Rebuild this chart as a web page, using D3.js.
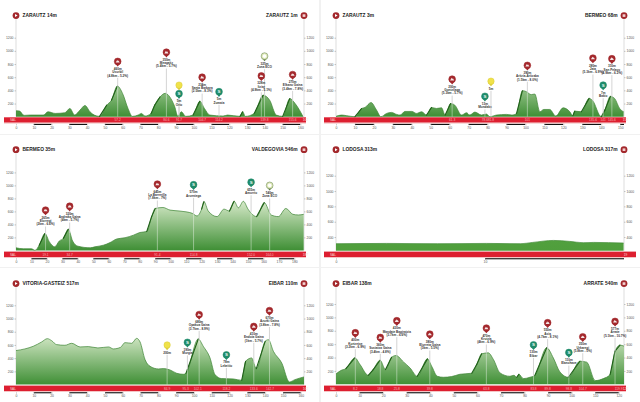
<!DOCTYPE html>
<html><head><meta charset="utf-8">
<script src="https://d3js.org/d3.v7.min.js"></script>
<style>html,body{margin:0;padding:0;background:#fff}svg{display:block}text{font-family:"Liberation Sans",Arial,sans-serif}</style>
</head><body><svg id="c" width="640" height="402"></svg>
<script>
// ---- stage 1
const s1Start="ZARAUTZ 14m", s1End="ZARAUTZ 1m";
const s1Km=[0,2,4.5,8,15.4,18,22,27.5,30.3,33,36,38.8,41.6,44,47,51,53.7,57,60,63,65.5,68.7,70.6,72.5,76,78,81,84,86.5,89.3,91,93,95.5,99.6,103.4,106,109,116.5,119,126,127.5,129,134,139,142.7,146.4,150,154,157,161.5];
const s1Elev=[90,85,20,25,25,75,50,60,125,25,100,170,75,25,5,175,250,465,350,125,5,25,50,10,50,175,300,355,300,150,10,75,5,25,235,125,25,10,25,5,75,5,50,325,250,25,5,275,200,0];
const s1Ticks=d3.range(0,161,10);
const s1Marks=["57.2","84.6","91.7","104.7","114.2","139.8","155.6"];
const s1MarkKm=[57.2,84.6,91.7,104.7,114.2,139.8,155.6];
const s1PinKm=[57.2,84.6,91.7,91.7,104.7,114.2,139.8,138,155.6];
const s1PinAlt=[840,980,480,350,600,380,920,620,640];
const s1PinKind=["r","r","y","g","r","g","l","r","r"];
const s1PinText=["460m|Usurbil|(4.8km - 5.2%)","350m|Meagaitz|(5.4km - 5.7%)","","5m|Orio","234m|Santa Barbara|(2.5km - 8.3%)","5m|Zumaia","325m|Zona ECO","328m|Itziar|(4.9km - 5.1%)","270m|Elkano Gaina|(3.4km - 7.8%)"];

// ---- stage 2
const s2Start="ZARAUTZ 3m", s2End="BERMEO 68m";
const s2Km=[0,3,5.7,10,13.5,15.3,18.5,21.4,23.7,26.7,29.3,32,33.8,36.4,40,42.5,45.2,47.8,50.4,53,55.7,57.6,60.5,62.7,66.3,68.9,70.6,73.3,76.8,79.4,81.2,84.7,90,92.8,95.3,98.4,100.5,103,104.9,107.6,109.7,112.8,116,119.9,123.4,125,126,129.5,133.6,135.3,140,141.9,144.8,147,149.7,151.8];
const s2Elev=[5,25,15,0,125,140,215,100,0,50,65,35,25,80,80,50,75,25,140,125,135,25,200,175,25,60,25,70,25,40,0,25,35,25,50,395,380,335,345,75,110,110,10,135,75,15,85,75,278,250,0,100,308,278,125,75];
const s2Ticks=d3.range(0,151,10);
const s2Marks=["61.3","78.6","81.8","101","135.6","141","145.6"];
const s2MarkKm=[61.3,78.6,81.8,101,135.6,141,145.6];
const s2PinKm=[61.3,78.6,81.8,101,135.6,141,145.6];
const s2PinAlt=[570,310,540,780,890,480,880];
const s2PinText=["200m|Gontzilaga|(5.3km - 5.7%)","13m|Mundaka","5m","390m|Aritzia-Aritzaba|(1.5km - 8.0%)","280m|Jata|(5.3km - 6.9%)","7m|Bakio","310m|San Pelayo|(4.9km - 6.2%)"];
const s2PinKind=["r","g","y","r","r","g","r"];

// ---- stage 3
const s3Start="BERMEO 35m", s3End="VALDEGOVIA 546m";
const s3Km=[0,4.7,10,12.3,15,18.7,21.5,25,28,30.6,33.8,36.6,40,48,51,56.5,60.8,65,70.5,76,80,84.5,87.7,90,95,99.6,106,114,117,120,121.5,124.3,130,134.5,138,141,143.8,147,150,155.6,160.5,165,169.6,174.5,179,182.5,186];
const s3Elev=[40,25,25,0,80,260,135,55,145,185,325,145,65,40,55,80,120,175,195,235,275,290,520,645,660,620,605,570,530,635,750,605,520,635,605,755,655,755,635,520,735,545,520,645,555,545,555];
const s3Ticks=d3.range(0,181,10);
const s3Marks=["19.1","34.7","91.4","114.8","152.0","164.0"];
const s3MarkKm=[19.1,34.7,91.4,114.8,152,164];
const s3PinKm=[19.1,34.7,91.4,114.8,152,164];
const s3PinAlt=[620,680,1020,1010,1050,1000];
const s3PinText=["265m|Elorregi|(2km - 6.6%)","320m|Andraka Gaina|(4km - 5.7%)","645m|La Barrerilla|(7.8km - 7%)","570m|Arceniega","655m|Amurrio","540m|Zona ECO"];
const s3PinKind=["r","r","r","g","g","l"];

// ---- stage 4
const s4Start="LODOSA 313m", s4End="LODOSA 317m";
const s4Km=[0,3.4,6.8,10.1,12.4,13.2,14.6,15.7,16.6,17.3,19.3];
const s4Elev=[313,317,313,317,313,330,356,343,326,330,322];
const s4Ticks=[0,10];
const s4Marks=[], s4MarkKm=[], s4PinKm=[], s4PinAlt=[], s4PinText=[], s4PinKind=[];

// ---- stage 5
const s5Start="VITORIA-GASTEIZ 517m", s5End="EIBAR 110m";
const s5Km=[0,5,9.7,14.4,17.6,20,22.8,27.5,31.3,36,40.6,46,52,54.7,58.8,61.2,65,67.8,69.7,72.5,75.3,80,82.8,86.5,90.3,94,95.5,102.4,105.2,109,111.8,115.5,122,126.8,129,132.4,135,140,141.8,144.6,149.3,153.6,156.7,161.8];
const s5Elev=[515,540,580,645,695,665,605,595,625,570,575,555,570,540,565,635,625,700,645,378,277,237,242,222,171,156,171,690,580,403,151,91,86,65,353,403,242,655,680,504,327,40,75,116];
const s5Ticks=d3.range(0,161,10);
const s5Marks=["84.9","95.3","102.1","118.2","133.6","142.7"];
const s5MarkKm=[84.9,95.3,102.1,118.2,133.6,142.7];
const s5PinKm=[84.9,96.3,102.9,118.2,133.6,142.4];
const s5PinAlt=[600,640,1060,450,880,1120];
const s5PinText=["200m","190m|Murgia","680m|Opakua Gaina|(3.7km - 8.9%)","78m|Lekeitio","410m|Endoia Gaina|(1km - 5.7%)","670m|Azurki Gaina|(3.8km - 7.8%)"];
const s5PinKind=["y","g","r","g","r","r"];

// ---- stage 6
const s6Start="EIBAR 138m", s6End="ARRATE 540m";
const s6Km=[0,2,4.2,8,10.2,13.7,15.8,18.7,21,23.6,25.5,28.6,31.4,34.5,38.8,40.6,43,45.5,49,52.6,57.6,59.7,61.8,64.6,66.8,69.6,73.8,75.5,76.7,77.6,79.5,82.3,84.4,89.4,92.2,95,98.6,103.5,106.4,110,113.4,116.3,118.4,120.5,122.2];
const s6Elev=[155,205,235,395,295,135,220,360,220,405,430,335,245,120,380,270,120,105,115,150,165,295,455,470,370,170,120,135,105,150,85,105,135,545,395,185,105,345,330,55,85,145,495,585,570];
const s6Ticks=d3.range(0,121,10);
const s6Marks=["8.2","18.8","25.8","39.8","63.8","83.8","89.8","98.8","104.7","119.9"];
const s6MarkKm=[8.2,18.8,25.8,39.8,63.8,83.8,89.8,98.8,104.7,119.9];
const s6PinKm=[8.2,18.8,25.8,39.8,63.8,83.8,89.8,98.8,104.7,118.4];
const s6PinAlt=[770,700,950,750,840,590,920,475,710,940];
const s6PinText=["400m|Kurtzetxe|(3.2km - 6.9%)","360m|Sustatxa Gaina|(3.4km - 4.8%)","430m|Mandate Bagiratzia|(3.7km - 6.6%)","380m|Elurreta Gaina|(3km - 5.5%)","470m|Krutzia|(4km - 6.9%)","130m|Eibar","550m|Asia|(4.7km - 8.1%)","110m|Elanchave","350m|Urkaregi|(5.8km - 5%)","577m|Arrate|(5.1km - 10.7%)"];
const s6PinKind=["r","r","r","r","r","g","r","g","r","r"];

const s1Total=162, s2Total=152, s3Total=186.2, s4Total=19.33, s5Total=161.8, s6Total=122.2;
const s1EndMark="162", s2EndMark="152", s3EndMark="187", s4EndMark="19", s5EndMark="162", s6EndMark="122";
const altTicks=[1200,1000,800,600,400,200];
const altTicks4=[1200,1000,800,600,400];

const stages=[
 {ox:0,oy:0,total:s1Total,km:s1Km,elev:s1Elev,start:s1Start,end:s1End,ticks:s1Ticks,marks:s1Marks,markKm:s1MarkKm,pinKm:s1PinKm,pinAlt:s1PinAlt,pinText:s1PinText,pinKind:s1PinKind,endMark:s1EndMark,alt:altTicks,y0:0,yBase:116.7,yTop:37.7,yTopV:1200,titleY:15.6,bandY:117.3,tickStep:10},
 {ox:320,oy:0,total:s2Total,km:s2Km,elev:s2Elev,start:s2Start,end:s2End,ticks:s2Ticks,marks:s2Marks,markKm:s2MarkKm,pinKm:s2PinKm,pinAlt:s2PinAlt,pinText:s2PinText,pinKind:s2PinKind,endMark:s2EndMark,alt:altTicks,y0:0,yBase:116.7,yTop:37.7,yTopV:1200,titleY:15.6,bandY:117.3,tickStep:10},
 {ox:0,oy:135,total:s3Total,km:s3Km,elev:s3Elev,start:s3Start,end:s3End,ticks:s3Ticks,marks:s3Marks,markKm:s3MarkKm,pinKm:s3PinKm,pinAlt:s3PinAlt,pinText:s3PinText,pinKind:s3PinKind,endMark:s3EndMark,alt:altTicks,y0:0,yBase:115.4,yTop:37.4,yTopV:1200,titleY:14.7,bandY:116.6,tickStep:10},
 {ox:320,oy:135,total:s4Total,km:s4Km,elev:s4Elev,start:s4Start,end:s4End,ticks:s4Ticks,marks:s4Marks,markKm:s4MarkKm,pinKm:s4PinKm,pinAlt:s4PinAlt,pinText:s4PinText,pinKind:s4PinKind,endMark:s4EndMark,alt:altTicks4,y0:222,yBase:115.7,yTop:40.7,yTopV:1200,titleY:14.7,bandY:116.6,tickStep:10},
 {ox:0,oy:268,total:s5Total,km:s5Km,elev:s5Elev,start:s5Start,end:s5End,ticks:s5Ticks,marks:s5Marks,markKm:s5MarkKm,pinKm:s5PinKm,pinAlt:s5PinAlt,pinText:s5PinText,pinKind:s5PinKind,endMark:s5EndMark,alt:altTicks,y0:0,yBase:116.6,yTop:37.3,yTopV:1200,titleY:15.6,bandY:117.6,tickStep:10},
 {ox:320,oy:268,total:s6Total,km:s6Km,elev:s6Elev,start:s6Start,end:s6End,ticks:s6Ticks,marks:s6Marks,markKm:s6MarkKm,pinKm:s6PinKm,pinAlt:s6PinAlt,pinText:s6PinText,pinKind:s6PinKind,endMark:s6EndMark,alt:altTicks,y0:0,yBase:116.3,yTop:36,yTopV:1200,titleY:15.6,bandY:117.6,tickStep:10}
];

const kindFill={r:"#a3282c",g:"#1f8b6a",y:"#f0e24a",l:"#dfe9b8"};
const kindEdge={r:"#a3282c",g:"#1f8b6a",y:"#d9cb3a",l:"#5e7d4a"};
const svg=d3.select("#c");
const defs=svg.append("defs");
// panel separators
svg.append("rect").attr("width",640).attr("height",402).attr("fill","#f1f1f1");
const LX=16,RX=304;

stages.forEach((s,i)=>{
  const g=svg.append("g").attr("transform",`translate(${s.ox},${s.oy})`);
  const cardH=i<2?134:(i<4?132:134);
  g.append("rect").attr("x",i%2?1:0).attr("y",0).attr("width",319).attr("height",cardH).attr("fill","#fff");
  const x=d3.scaleLinear().domain([0,s.total]).range([LX,RX]);
  const y=d3.scaleLinear().domain([s.y0,s.yTopV]).range([s.yBase,s.yTop]);
  // gradient
  const gid="grad"+i;
  const gr=defs.append("linearGradient").attr("id",gid).attr("gradientUnits","userSpaceOnUse").attr("x1",0).attr("x2",0).attr("y1",s.yBase).attr("y2",y(i===3?900:720));
  gr.append("stop").attr("offset",0).attr("stop-color",i===3?"#4f9e3c":"#3f8f35");
  gr.append("stop").attr("offset",1).attr("stop-color",i===3?"#5aa845":"#cfe5c2");
  // side axes
  g.append("line").attr("x1",LX).attr("x2",LX).attr("y1",s.titleY).attr("y2",s.yBase).attr("stroke","#d4d4d4").attr("stroke-width",0.8);
  g.append("line").attr("x1",RX).attr("x2",RX).attr("y1",s.titleY).attr("y2",s.yBase).attr("stroke","#d4d4d4").attr("stroke-width",0.8);
  // altitude ticks
  const axL=d3.axisLeft(y).tickValues(s.alt).tickSize(1.5).tickPadding(1).tickFormat(d3.format("d"));
  const axR=d3.axisRight(y).tickValues(s.alt).tickSize(1.5).tickPadding(1).tickFormat(d3.format("d"));
  [[axL,LX],[axR,RX]].forEach(([ax,tx])=>{
    const a=g.append("g").attr("transform",`translate(${tx},0)`).call(ax);
    a.select(".domain").remove();
    a.selectAll("line").attr("stroke","#777").attr("stroke-width",0.4);
    a.selectAll("text").attr("font-size",3.4).attr("fill","#555");
  });
  // area
  const area=d3.area().x((d,j)=>x(s.km[j])).y0(s.yBase).y1(d=>y(d)).curve(d3.curveMonotoneX);
  const line=d3.line().x((d,j)=>x(s.km[j])).y(d=>y(d)).curve(d3.curveMonotoneX);
  g.append("path").attr("d",area(s.elev)).attr("fill",`url(#${gid})`);
  g.append("path").attr("d",line(s.elev)).attr("fill","none").attr("stroke",i===3?"#3f8a33":"#3c8433").attr("stroke-width",0.7);
  // steep climbs thicker
  const pts=s.elev.map((e,j)=>[x(s.km[j]),y(e)]);
  for(let j=0;j<pts.length-1;j++){
    const grade=(s.elev[j+1]-s.elev[j])/((s.km[j+1]-s.km[j])*1000);
    if(grade>0.035){
      g.append("line").attr("x1",pts[j][0]).attr("y1",pts[j][1]).attr("x2",pts[j+1][0]).attr("y2",pts[j+1][1]).attr("stroke","#1f6018").attr("stroke-width",1.1).attr("stroke-linecap","round");
    }
  }
  // band
  g.append("rect").attr("x",4).attr("y",s.bandY).attr("width",i===3?312:302).attr("height",5.4).attr("fill","#dd1f30");
  g.append("rect").attr("x",4).attr("y",s.bandY+5.4).attr("width",i===3?312:302).attr("height",1).attr("fill","#f5c6c6");
  const bandFs=3.2;
  g.append("text").attr("x",13).attr("y",s.bandY+3.9).attr("text-anchor","middle").attr("font-size",bandFs).attr("fill","#fbdada").text(s.ticks.length===2?"SAL":"SAL");
  g.append("text").attr("x",RX+1.5).attr("y",s.bandY+3.9).attr("text-anchor","middle").attr("font-size",bandFs).attr("fill","#fbdada").text(s.endMark);
  s.marks.forEach((m,j)=>g.append("text").attr("x",x(s.markKm[j])).attr("y",s.bandY+3.9).attr("text-anchor","middle").attr("font-size",bandFs).attr("fill","#f6b5b5").text(m));
  // km bars
  const barY=s.bandY+6.6;
  const ends=s.ticks.concat([s.total]);
  for(let j=0;j<ends.length-1;j++){
    g.append("rect").attr("x",x(ends[j])).attr("y",barY).attr("width",x(ends[j+1])-x(ends[j])).attr("height",1.1).attr("fill",j%2?"#111":"#fff").attr("stroke","none");
  }
  const kax=d3.axisBottom(x).tickValues(s.ticks).tickSize(1.6).tickPadding(1).tickFormat(d3.format("d"));
  const ka=g.append("g").attr("transform",`translate(0,${barY})`).call(kax);
  ka.select(".domain").remove();
  ka.selectAll("line").attr("stroke","#888").attr("stroke-width",0.4);
  ka.selectAll("text").attr("font-size",3.4).attr("fill","#555");
  // pins
  s.pinKm.forEach((k,j)=>{
    const px=x(k),py=y(s.pinAlt[j]),kind=s.pinKind[j];
    const lines=s.pinText[j]?s.pinText[j].split("|"):[];
    const top=py+6;
    const ti=d3.bisectLeft(s.km,k);
    const k0=s.km[Math.max(ti-1,0)],k1=s.km[Math.min(ti,s.km.length-1)];
    const e0=s.elev[Math.max(ti-1,0)],e1=s.elev[Math.min(ti,s.km.length-1)];
    const ground=k1===k0?e0:e0+(e1-e0)*(k-k0)/(k1-k0);
    const stemTop=top+lines.length*3.3+0.5;
    const seg=d3.line();
    g.append("path").attr("d",seg([[px,stemTop],[px,y(ground)]])).attr("stroke","#cfcfcf").attr("stroke-width",0.9);
    g.append("path").attr("d",seg([[px,y(ground)],[px,s.yBase]])).attr("stroke","#fff").attr("stroke-opacity",0.45).attr("stroke-width",0.9);
    lines.forEach((t,l)=>g.append("text").attr("x",px).attr("y",top+2.6+l*3.3).attr("text-anchor","middle").attr("font-size",3.1).attr("font-weight",700).attr("fill","#333").text(t));
    const R=3.4;
    g.append("path").attr("d",`M${px-R*0.9},${py+R*0.45} L${px},${py+R+1.8} L${px+R*0.9},${py+R*0.45} Z`).attr("fill",kindEdge[kind]);
    g.append("circle").attr("cx",px).attr("cy",py).attr("r",kind==="y"?3.2:R).attr("fill",kindFill[kind]).attr("stroke",kindEdge[kind]).attr("stroke-width",0.5);
    if(kind==="r") g.append("path").attr("d",`M${px-2},${py+1.2} L${px-0.5},${py-1.4} L${px+0.3},${py-0.3} L${px+0.8},${py-0.9} L${px+2},${py+1.2} Z`).attr("fill","#f6e6e6");
    if(kind==="g") g.append("text").attr("x",px).attr("y",py+1.5).attr("text-anchor","middle").attr("font-size",4.4).attr("font-weight",700).attr("fill","#e8f5ef").text("S");
    if(kind==="l") g.append("circle").attr("cx",px).attr("cy",py).attr("r",1.8).attr("fill","#fff");
  });
  // start/end markers
  [[LX,"start"],[RX,"end"]].forEach(([mx,w])=>{
    g.append("circle").attr("cx",mx).attr("cy",s.titleY).attr("r",3.4).attr("fill","#a3282c");
    if(w==="start") g.append("path").attr("d",`M${mx-1},${s.titleY-1.5} L${mx+1.6},${s.titleY} L${mx-1},${s.titleY+1.5} Z`).attr("fill","#fff");
    else g.append("rect").attr("x",mx-1.4).attr("y",s.titleY-1.3).attr("width",2.8).attr("height",2.6).attr("fill","#f2d0d0");
  });
  g.append("text").attr("x",LX+6.5).attr("y",s.titleY+1.7).attr("font-size",4.9).attr("font-weight",700).attr("fill","#222").text(s.start);
  g.append("text").attr("x",RX-6.5).attr("y",s.titleY+1.7).attr("text-anchor","end").attr("font-size",4.9).attr("font-weight",700).attr("fill","#222").text(s.end);
});
</script></body></html>
